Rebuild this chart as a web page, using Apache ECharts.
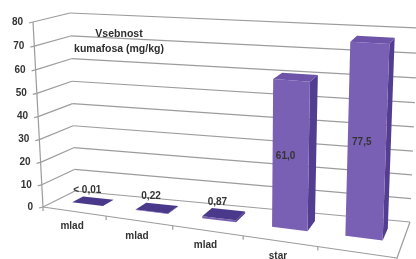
<!DOCTYPE html>
<html>
<head>
<meta charset="utf-8">
<title>Vsebnost kumafosa</title>
<script src="https://cdn.jsdelivr.net/npm/echarts@6/dist/echarts.min.js"></script>
<style>
    html, body { margin: 0; padding: 0; background: #fff; }
    #chart { width: 416px; height: 259px; }
</style>
</head>
<body>
<div id="chart"></div>
<script type="text/javascript">
    // chart data
    var categories = ['mlad', 'mlad', 'mlad', 'star', 'star'];
    var values = [0.01, 0.22, 0.87, 61.0, 77.5];
    var valueLabels = ['< 0,01', '0,22', '0,87', '61,0', '77,5'];
    var yTicks = [0, 10, 20, 30, 40, 50, 60, 70, 80];
    var chartTitle = 'Vsebnost\nkumafosa (mg/kg)';

    var FONT = 'bold 10px "Liberation Sans", Arial, sans-serif';
    var GRID_COLOR = '#9c9c9c';

    // corners of the front (z=0) and back (z=1) planes of the 3D box, unit square -> screen
    var frontQuad = [[43, 207], [397, 258], [405, 46], [33, 22]];
    var backQuad = [[75, 191], [410, 222], [418, 28], [70, 13]];

    function makeHomography(q) {
        var x0 = q[0][0], y0 = q[0][1], x1 = q[1][0], y1 = q[1][1];
        var x2 = q[2][0], y2 = q[2][1], x3 = q[3][0], y3 = q[3][1];
        var dx1 = x1 - x2, dx2 = x3 - x2, dx3 = x0 - x1 + x2 - x3;
        var dy1 = y1 - y2, dy2 = y3 - y2, dy3 = y0 - y1 + y2 - y3;
        var den = dx1 * dy2 - dx2 * dy1;
        var g = (dx3 * dy2 - dx2 * dy3) / den;
        var h = (dx1 * dy3 - dx3 * dy1) / den;
        var a = x1 - x0 + g * x1, b = x3 - x0 + h * x3;
        var d = y1 - y0 + g * y1, e = y3 - y0 + h * y3;
        return function (u, v) {
            var w = g * u + h * v + 1;
            return [(a * u + b * v + x0) / w, (d * u + e * v + y0) / w];
        };
    }

    var hFront = makeHomography(frontQuad);
    var hBack = makeHomography(backQuad);

    function project(X, Y, Z) {
        var f = hFront(X, Y), b = hBack(X, Y);
        return [f[0] + (b[0] - f[0]) * Z, f[1] + (b[1] - f[1]) * Z];
    }

    // grid pixel -> unit box coords
    function toUnit(cs, p) {
        return [(p[0] - cs.x) / cs.width, (cs.y + cs.height - p[1]) / cs.height];
    }

    function line(p, q, color, width) {
        return {
            type: 'line',
            shape: {x1: p[0], y1: p[1], x2: q[0], y2: q[1]},
            style: {stroke: color || GRID_COLOR, lineWidth: width || 1.2}
        };
    }

    function poly(pts, color) {
        return {type: 'polygon', shape: {points: pts}, style: {fill: color}};
    }

    function text(p, str, align, vAlign) {
        return {
            type: 'text', x: p[0], y: p[1],
            style: {text: str, font: FONT, fill: '#333', align: align || 'center', verticalAlign: vAlign || 'middle'}
        };
    }

    var BAR_Z0 = 0.42, BAR_Z1 = 0.76;

    // walls, gridlines and value axis
    function renderGrid(params, api) {
        var cs = params.coordSys;
        var Y = toUnit(cs, api.coord([0, api.value(1)]))[1];
        var fl = project(0, Y, 0), bl = project(0, Y, 1), br = project(1, Y, 1);
        var kids = [
            line(fl, bl),
            line(bl, br),
            line([fl[0] - 4, fl[1] + 1], fl),
            text([fl[0] - 10, fl[1]], String(api.value(1)), 'right')
        ];
        if (params.dataIndex === 0) {
            // floor edges and vertical axis
            kids.push(line(project(0, 0, 0), project(1, 0, 0)));
            kids.push(line(project(1, 0, 0), project(1, 0, 1)));
            kids.push(line(project(0, 0, 0), project(0, 1, 0)));
        }
        return {type: 'group', children: kids};
    }

    // category labels and floor ticks
    function renderCats(params, api) {
        var cs = params.coordSys;
        var c = toUnit(cs, api.coord([api.value(0), 0]));
        var half = api.size([1, 0])[0] / cs.width / 2;
        var p = project(c[0], 0, 0);
        var t0 = project(c[0] - half, 0, 0);
        var kids = [
            line(t0, [t0[0], t0[1] + 4]),
            text([p[0] - 2, p[1] + 15], categories[params.dataIndex])
        ];
        if (params.dataIndex === categories.length - 1) {
            var t1 = project(c[0] + half, 0, 0);
            kids.push(line(t1, [t1[0], t1[1] + 4]));
        }
        return {type: 'group', children: kids};
    }

    // 3D columns
    function renderBar(params, api) {
        var cs = params.coordSys;
        var v = api.value(1);
        var top = toUnit(cs, api.coord([api.value(0), v]));
        var hw = api.size([1, 0])[0] / cs.width * 0.245;
        var x0 = top[0] - hw, x1 = top[0] + hw, Y = top[1];
        var z0 = BAR_Z0, z1 = BAR_Z1;
        var flat = v < 5;
        var kids = [];
        // right side face
        kids.push(poly([project(x1, 0, z0), project(x1, 0, z1), project(x1, Y, z1), project(x1, Y, z0)], '#533d90'));
        // front face
        kids.push(poly([project(x0, 0, z0), project(x1, 0, z0), project(x1, Y, z0), project(x0, Y, z0)], '#7a60b4'));
        // top face
        kids.push(poly([project(x0, Y, z0), project(x1, Y, z0), project(x1, Y, z1), project(x0, Y, z1)], flat ? '#4a398a' : '#6d54a9'));
        var lbl = valueLabels[params.dataIndex];
        if (flat) {
            var lp = project(top[0], Y, z1);
            kids.push(text([lp[0] - 11, lp[1] - 3], lbl, 'center', 'bottom'));
        } else {
            var mp = project(top[0], Y / 2, z0);
            kids.push(text([mp[0] - 5, mp[1]], lbl));
        }
        return {type: 'group', children: kids};
    }

    var myChart = echarts.init(document.getElementById('chart'));
    var option = {
        animation: false,
        backgroundColor: '#fff',
        title: {
            text: chartTitle,
            left: 114,
            top: 22,
            textAlign: 'center',
            textStyle: {
                fontSize: 10.5,
                fontWeight: 'bold',
                fontFamily: '"Liberation Sans", Arial, sans-serif',
                lineHeight: 15,
                color: '#2e2e2e'
            }
        },
        grid: {left: 0, right: 0, top: 0, bottom: 0},
        xAxis: {type: 'category', data: categories, show: false},
        yAxis: {type: 'value', min: 0, max: 80, interval: 10, show: false},
        series: [
            {
                type: 'custom',
                renderItem: renderGrid,
                clip: false,
                silent: true,
                data: yTicks.map(function (t) { return [0, t]; })
            },
            {
                type: 'custom',
                renderItem: renderCats,
                clip: false,
                silent: true,
                data: categories.map(function (c, i) { return [i, 0]; })
            },
            {
                type: 'custom',
                renderItem: renderBar,
                clip: false,
                data: values.map(function (v, i) { return [i, v]; })
            }
        ]
    };
    myChart.setOption(option);
</script>
</body>
</html>
